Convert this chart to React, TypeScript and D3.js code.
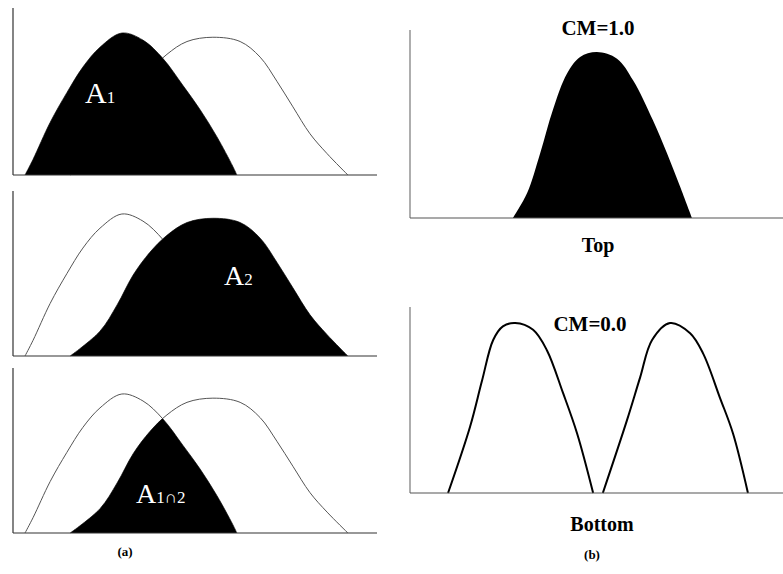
import React from "react";
import * as d3 from "d3";

// Panel (a): two overlapping distributions (x in 0..100, y normalised 0..1)
const a1X = [3.3, 5.5, 10.2, 14.8, 19.2, 23.9, 29.9, 35.7, 41.2, 46.7, 51.4, 56, 60.4, 61.5];
const a1Y = [0, 0.11, 0.37, 0.58, 0.76, 0.9, 1.0, 0.95, 0.82, 0.63, 0.46, 0.27, 0.06, 0];
const a2X = [15.7, 23.9, 28.6, 33, 37.6, 42.3, 47.8, 54.9, 62.4, 67.9, 72.5, 76.9, 81.6, 86.3, 92];
const a2Y = [0, 0.175, 0.36, 0.57, 0.73, 0.85, 0.94, 0.97, 0.94, 0.83, 0.66, 0.48, 0.29, 0.15, 0];

// Panel (b) top: CM = 1.0
const topX = [27.6, 31.4, 34.9, 38.3, 42.1, 45.6, 50.1, 55.5, 59.8, 65.1, 68.9, 72.4, 75.6];
const topY = [0, 0.15, 0.39, 0.65, 0.87, 0.97, 1.0, 0.96, 0.83, 0.59, 0.39, 0.19, 0];

// Panel (b) bottom: CM = 0.0
const bot1X = [10.2, 16.1, 19.3, 22.3, 24.9, 28.2, 33, 36.7, 41, 44.8, 49.1];
const bot1Y = [0, 0.39, 0.66, 0.9, 0.98, 1.0, 0.96, 0.84, 0.59, 0.35, 0];
const bot2X = [51.7, 58.2, 61.7, 64.9, 69.7, 75.1, 78.6, 83.1, 86.6, 90.6];
const bot2Y = [0, 0.43, 0.68, 0.9, 1.0, 0.94, 0.82, 0.56, 0.35, 0];

const labels = { a: "(a)", b: "(b)", top: "Top", bottom: "Bottom", cm1: "CM=1.0", cm0: "CM=0.0" };

type Pt = [number, number];
const zip = (xs: number[], ys: number[]): Pt[] => xs.map((x, i) => [x, ys[i]]);

const serif = "'Liberation Serif', 'Times New Roman', serif";
const curve = d3.curveCatmullRom.alpha(0.5);

function LeftPanel({ top, bottom, peakH, mode, idx }: { top: number; bottom: number; peakH: number; mode: number; idx: number }) {
  const x = d3.scaleLinear().domain([0, 100]).range([13, 377]);
  const y = d3.scaleLinear().domain([0, 1]).range([bottom, bottom - peakH]);
  const line = d3.line<Pt>().x(d => x(d[0])).y(d => y(d[1])).curve(curve);
  const area = d3.area<Pt>().x(d => x(d[0])).y0(y(0)).y1(d => y(d[1])).curve(curve);
  const d1 = zip(a1X, a1Y);
  const d2 = zip(a2X, a2Y);
  const clipId = `clipA2-${idx}`;
  return (
    <g>
      <defs>
        <clipPath id={clipId}>
          <path d={area(d2) || ""} />
        </clipPath>
      </defs>
      <path d={line(d1) || ""} fill="none" stroke="#555" strokeWidth={1} />
      <path d={line(d2) || ""} fill="none" stroke="#555" strokeWidth={1} />
      {mode === 0 && <path d={area(d1) || ""} fill="#000" />}
      {mode === 1 && <path d={area(d2) || ""} fill="#000" />}
      {mode === 2 && <path d={area(d1) || ""} fill="#000" clipPath={`url(#${clipId})`} />}
      <line x1={x(0)} x2={x(0)} y1={top} y2={bottom} stroke="#333" strokeWidth={1.2} />
      <line x1={x(0)} x2={x(100)} y1={bottom} y2={bottom} stroke="#333" strokeWidth={1.2} />
    </g>
  );
}

export default function App() {
  const xr = d3.scaleLinear().domain([0, 100]).range([410, 783]);
  const yTop = d3.scaleLinear().domain([0, 1]).range([218, 52]);
  const yBot = d3.scaleLinear().domain([0, 1]).range([493, 323]);
  const areaTop = d3.area<Pt>().x(d => xr(d[0])).y0(yTop(0)).y1(d => yTop(d[1])).curve(curve);
  const lineBot = d3.line<Pt>().x(d => xr(d[0])).y(d => yBot(d[1])).curve(curve);

  return (
    <svg width={783} height={574} style={{ position: "absolute", left: 0, top: 0, background: "#fff" }} fontFamily={serif}>
      <rect width={783} height={574} fill="#fff" />
      <LeftPanel top={8} bottom={175} peakH={142} mode={0} idx={0} />
      <LeftPanel top={191} bottom={356} peakH={142} mode={1} idx={1} />
      <LeftPanel top={368} bottom={533} peakH={139} mode={2} idx={2} />

      <text x={85} y={103} fill="#fff" fontSize={30}>A<tspan fontSize={17}>1</tspan></text>
      <text x={224} y={285} fill="#fff" fontSize={28}>A<tspan fontSize={17}>2</tspan></text>
      <text x={136} y={503} fill="#fff" fontSize={28}>A<tspan fontSize={17}>1∩2</tspan></text>
      <text x={125} y={556} textAnchor="middle" fontSize={13} fontWeight="bold">{labels.a}</text>

      {/* (b) top */}
      <path d={areaTop(zip(topX, topY)) || ""} fill="#000" />
      <line x1={xr(0)} x2={xr(0)} y1={30} y2={218} stroke="#777" strokeWidth={1.2} />
      <line x1={xr(0)} x2={xr(100)} y1={218} y2={218} stroke="#555" strokeWidth={1.2} />
      <text x={598} y={35} textAnchor="middle" fontSize={21} fontWeight="bold">{labels.cm1}</text>
      <text x={598} y={252} textAnchor="middle" fontSize={20} fontWeight="bold">{labels.top}</text>

      {/* (b) bottom */}
      <path d={lineBot(zip(bot1X, bot1Y)) || ""} fill="none" stroke="#000" strokeWidth={2} />
      <path d={lineBot(zip(bot2X, bot2Y)) || ""} fill="none" stroke="#000" strokeWidth={2} />
      <line x1={xr(0)} x2={xr(0)} y1={307} y2={493} stroke="#777" strokeWidth={1.2} />
      <line x1={xr(0)} x2={xr(100)} y1={493} y2={493} stroke="#555" strokeWidth={1.2} />
      <text x={590} y={331} textAnchor="middle" fontSize={21} fontWeight="bold">{labels.cm0}</text>
      <text x={602} y={531} textAnchor="middle" fontSize={20} fontWeight="bold">{labels.bottom}</text>
      <text x={592} y={559} textAnchor="middle" fontSize={13} fontWeight="bold">{labels.b}</text>
    </svg>
  );
}
